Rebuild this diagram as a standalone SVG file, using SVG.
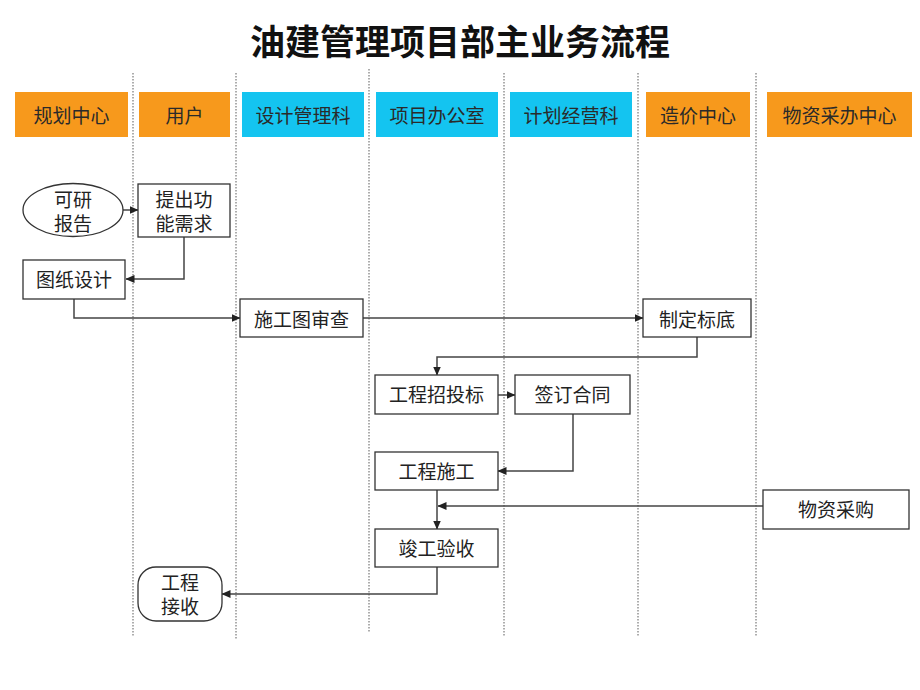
<svg xmlns="http://www.w3.org/2000/svg" width="920" height="690" viewBox="0 0 920 690">
<defs>
<marker id="ah" markerWidth="9" markerHeight="8" refX="8.5" refY="4" orient="auto" markerUnits="userSpaceOnUse">
<path d="M0,0 L9,4 L0,8 Z" fill="#222"/>
</marker>
<style>
.lane{stroke:#777;stroke-width:1.2;stroke-dasharray:1.5,1.5;fill:none}
.hdo{fill:#F7991C}
.hdc{fill:#14C4F0}
.ht{font-family:"Liberation Sans","Noto Sans CJK SC",sans-serif;font-size:19px;fill:#2a2a2a;text-anchor:middle}
.box{fill:#fff;stroke:#333;stroke-width:1.3}
.nt{font-family:"Liberation Serif","Noto Sans CJK SC",serif;font-size:19px;fill:#222;text-anchor:middle}
.c{fill:none;stroke:#444;stroke-width:1.5}
.title{font-family:"Noto Sans CJK SC",sans-serif;font-size:35px;font-weight:bold;fill:#111;text-anchor:middle}
</style>
</defs>
<rect width="920" height="690" fill="#fff"/>
<text class="title" x="460" y="55">油建管理项目部主业务流程</text>
<g id="lanes">
<line class="lane" x1="133" y1="73" x2="133" y2="637"/>
<line class="lane" x1="236" y1="73" x2="236" y2="640"/>
<line class="lane" x1="369" y1="69" x2="369" y2="633"/>
<line class="lane" x1="504" y1="73" x2="504" y2="637"/>
<line class="lane" x1="638" y1="73" x2="638" y2="637"/>
<line class="lane" x1="756" y1="73" x2="756" y2="637"/>
</g>
<g id="headers">
<g id="h1"><rect class="hdo" x="15" y="92" width="113" height="45"/><text class="ht" x="71.5" y="123">规划中心</text></g>
<g id="h2"><rect class="hdo" x="139" y="92" width="91" height="45"/><text class="ht" x="184.5" y="123">用户</text></g>
<g id="h3"><rect class="hdc" x="242" y="92" width="122" height="45"/><text class="ht" x="303" y="123">设计管理科</text></g>
<g id="h4"><rect class="hdc" x="376" y="92" width="122" height="45"/><text class="ht" x="437" y="123">项目办公室</text></g>
<g id="h5"><rect class="hdc" x="510" y="92" width="122" height="45"/><text class="ht" x="571" y="123">计划经营科</text></g>
<g id="h6"><rect class="hdo" x="646" y="92" width="104" height="45"/><text class="ht" x="698" y="123">造价中心</text></g>
<g id="h7"><rect class="hdo" x="767" y="92" width="145" height="45"/><text class="ht" x="839.5" y="123">物资采办中心</text></g>
</g>
<g id="connectors">
<line class="c" x1="123" y1="210" x2="138" y2="210" marker-end="url(#ah)"/>
<polyline class="c" points="184,237 184,279 126,279" marker-end="url(#ah)"/>
<polyline class="c" points="74,299 74,318 240,318" marker-end="url(#ah)"/>
<line class="c" x1="363" y1="318" x2="643" y2="318" marker-end="url(#ah)"/>
<polyline class="c" points="697,337 697,357 437,357 437,375" marker-end="url(#ah)"/>
<line class="c" x1="498" y1="395" x2="515" y2="395" marker-end="url(#ah)"/>
<polyline class="c" points="573,414 573,471 498,471" marker-end="url(#ah)"/>
<line class="c" x1="437" y1="490" x2="437" y2="529" marker-end="url(#ah)"/>
<line class="c" x1="763" y1="506" x2="438" y2="506" marker-end="url(#ah)"/>
<polyline class="c" points="437,567 437,594 222,594" marker-end="url(#ah)"/>
</g>
<g id="n-kybg"><ellipse class="box" cx="73" cy="210" rx="50" ry="26.5"/><text class="nt" x="73" y="207">可研</text><text class="nt" x="73" y="231">报告</text></g>
<g id="n-tcgn"><rect class="box" x="138" y="184" width="92" height="53"/><text class="nt" x="184" y="207">提出功</text><text class="nt" x="184" y="231">能需求</text></g>
<g id="n-tzsj"><rect class="box" x="23" y="260" width="102" height="39"/><text class="nt" x="74" y="287">图纸设计</text></g>
<g id="n-sgtsc"><rect class="box" x="240" y="299" width="123" height="38"/><text class="nt" x="301.5" y="327">施工图审查</text></g>
<g id="n-zdbd"><rect class="box" x="643" y="299" width="108" height="38"/><text class="nt" x="697" y="327">制定标底</text></g>
<g id="n-gcztb"><rect class="box" x="375" y="375" width="123" height="39"/><text class="nt" x="436.5" y="402">工程招投标</text></g>
<g id="n-qdht"><rect class="box" x="515" y="375" width="115" height="39"/><text class="nt" x="572.5" y="402">签订合同</text></g>
<g id="n-gcsg"><rect class="box" x="375" y="452" width="123" height="38"/><text class="nt" x="436.5" y="479">工程施工</text></g>
<g id="n-wzcg"><rect class="box" x="763" y="490" width="146" height="39"/><text class="nt" x="836" y="517">物资采购</text></g>
<g id="n-jgys"><rect class="box" x="375" y="529" width="123" height="38"/><text class="nt" x="436.5" y="556">竣工验收</text></g>
<g id="n-gcjs"><rect class="box" x="138" y="567" width="84" height="54" rx="18" ry="18"/><text class="nt" x="180" y="590">工程</text><text class="nt" x="180" y="614">接收</text></g>
</svg>
